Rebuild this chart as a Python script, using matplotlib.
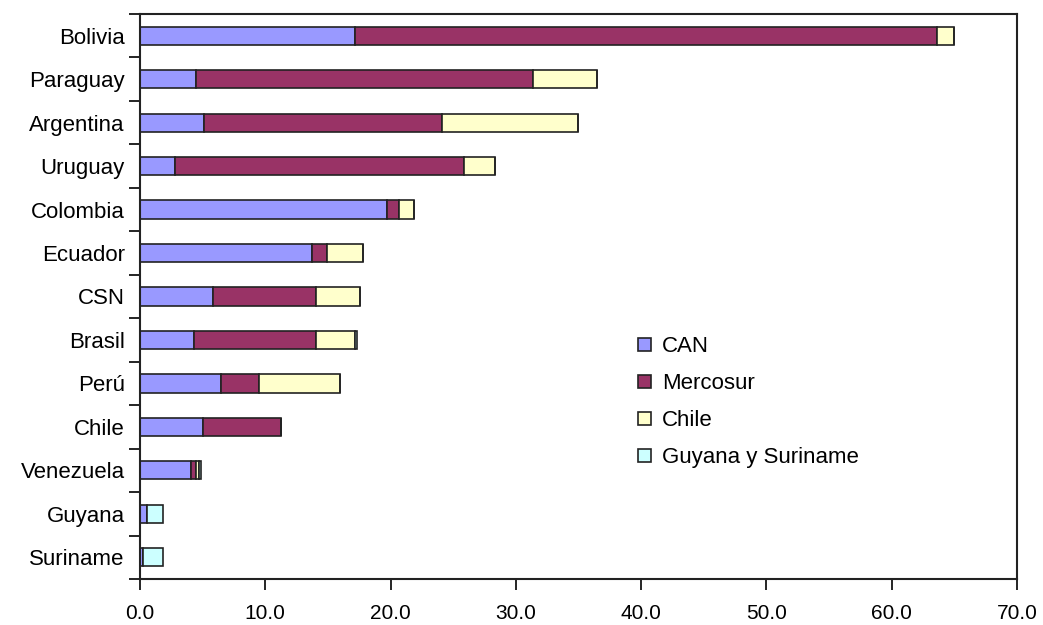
import numpy as np
import matplotlib.pyplot as plt
from matplotlib.ticker import FixedLocator

plt.rcParams['font.family'] = ['Liberation Sans', 'DejaVu Sans']

countries = ["Bolivia", "Paraguay", "Argentina", "Uruguay", "Colombia", "Ecuador",
             "CSN", "Brasil", "Perú", "Chile", "Venezuela", "Guyana", "Suriname"]
can = [17.15, 4.5, 5.1, 2.8, 19.7, 13.7, 5.85, 4.3, 6.45, 5.0, 4.1, 0.6, 0.25]
mercosur = [46.45, 26.85, 19.0, 23.1, 1.0, 1.2, 8.2, 9.75, 3.05, 6.25, 0.4, 0.0, 0.0]
chile = [1.4, 5.1, 10.9, 2.4, 1.2, 2.9, 3.5, 3.1, 6.5, 0.0, 0.2, 0.0, 0.0]
guyana_sur = [0.0, 0.0, 0.0, 0.0, 0.0, 0.0, 0.0, 0.15, 0.0, 0.0, 0.2, 1.2, 1.55]

series = [("CAN", can, "#9999FF"),
          ("Mercosur", mercosur, "#993366"),
          ("Chile", chile, "#FFFFCC"),
          ("Guyana y Suriname", guyana_sur, "#CCFFFF")]

fig = plt.figure(figsize=(10.43, 6.25), dpi=100)
ax = fig.add_axes([0.1342, 0.0736, 0.975 - 0.1342, 0.9776 - 0.0736])

y = np.arange(len(countries))
left = np.zeros(len(countries))
for name, vals, col in series:
    vals = np.array(vals)
    ax.barh(y, vals, left=left, height=0.42, color=col, edgecolor="#222222",
            linewidth=1.2, label=name)
    left += vals

ax.set_xlim(0, 70)
ax.set_ylim(len(countries) - 0.5, -0.5)
ax.set_xticks(np.arange(0, 71, 10))
ax.set_xticklabels([f"{v:.1f}" for v in np.arange(0, 71, 10)])
ax.set_yticks(y)
ax.set_yticklabels(countries)
ax.yaxis.set_minor_locator(FixedLocator(np.arange(-0.5, len(countries), 1)))
ax.tick_params(axis="y", which="major", length=0, pad=11, labelsize=16)
ax.tick_params(axis="y", which="minor", length=8, width=1.2, direction="out")
ax.tick_params(axis="x", which="major", length=8, width=1.2, direction="out",
               pad=10, labelsize=15)
for s in ax.spines.values():
    s.set_linewidth(1.5)
    s.set_color("#222222")

ax.legend(loc="upper left", bbox_to_anchor=(0.593, 0.494), bbox_transform=fig.transFigure,
          frameon=False, fontsize=16, handlelength=0.55, handleheight=0.55,
          handletextpad=0.5, labelspacing=0.72)

fig.savefig("out.png", dpi=100)
